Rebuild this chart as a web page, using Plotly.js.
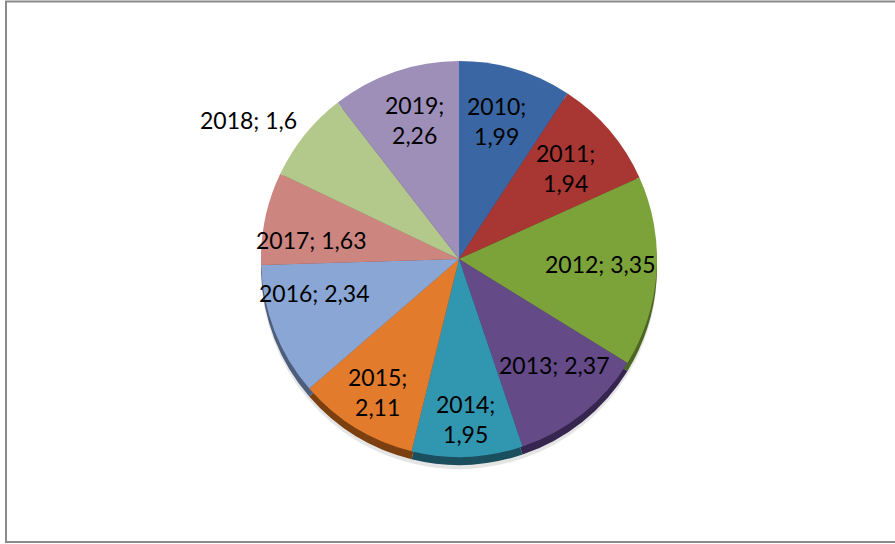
<!DOCTYPE html>
<html>
<head>
<meta charset="utf-8">
<script src="https://cdn.plot.ly/plotly-3.0.1.min.js"></script>
<style>
html,body{margin:0;padding:0;background:#fff;}
#chart{width:895px;height:544px;}
</style>
</head>
<body>
<div id="chart"></div>
<script>
// ---- data ----
const years = ['2010','2011','2012','2013','2014','2015','2016','2017','2018','2019'];
const values = [1.99, 1.94, 3.35, 2.37, 1.95, 2.11, 2.34, 1.63, 1.6, 2.26];

// ---- styles ----
const topColors = ['#3a67a3','#a83633','#7ca23a','#654a88','#3197b0','#e27c2c','#8aa6d4','#cd8580','#b2c98b','#9e8fb8'];
const edgeColors = ['#22406a','#6a1f1d','#4b6622','#36264f','#1b4f5e','#7c3f10','#4d5e7d','#7e4a46','#6b7c50','#5d5176'];
const twoLine = [true,true,false,false,true,true,false,false,false,true];
// label placement along each slice bisector (fraction of radius) + small pixel nudges
const labelRadius = [0.73,0.71,0.69,0.72,0.81,0.79,0.75,0.75,1.25,0.74];
const labelNudge = [[-4,0],[0,0],[5,-4],[7,-6],[0,0],[0,0],[-6,-20],[-2,12],[-18,16],[3,0]];

const labelText = years.map((y,i) => y + ';' + (twoLine[i] ? '<br>' : ' ') + String(values[i]).replace('.', ','));

const W = 895, H = 544;
const cx = 459, cy = 259, r = 198;
function dom(shift){
  const yc = H - (cy + shift);
  return { x:[cx/W - 0.3, cx/W + 0.3], y:[(yc - r)/H, (yc + r)/H] };
}

const common = {
  type:'pie', values: values, labels: years, sort:false, direction:'clockwise',
  rotation:0, showlegend:false, hoverinfo:'skip', textinfo:'none'
};

const shadow = Object.assign({}, common, {
  domain: dom(12),
  marker:{colors: years.map(()=> 'rgba(0,0,0,0.10)'), line:{width:0}}
});
const edge = Object.assign({}, common, {
  domain: dom(8),
  marker:{colors: edgeColors, line:{width:0}}
});
const main = Object.assign({}, common, {
  domain: dom(0),
  marker:{colors: topColors, line:{width:0}},
  hoverinfo:'label+value'
});

// labels positioned at the bisector of each slice, computed from the values
const total = values.reduce((a,b)=>a+b,0);
let cum = 0;
const annotations = values.map((v,i) => {
  const mid = (cum + v/2) / total * 2*Math.PI;
  cum += v;
  const k = labelRadius[i] * r;
  const px = cx + k*Math.sin(mid) + labelNudge[i][0];
  const py = cy - k*Math.cos(mid) + labelNudge[i][1];
  return {
    xref:'paper', yref:'paper', x: px/W, y: 1 - py/H,
    xanchor:'center', yanchor:'middle', showarrow:false,
    text: labelText[i], align:'center',
    font:{family:'Lato, "Open Sans", sans-serif', size:23, color:'#000'}
  };
});

const layout = {
  width: W, height: H,
  margin:{l:0,r:0,t:0,b:0},
  paper_bgcolor:'#fff', plot_bgcolor:'#fff',
  font:{family:'Lato, sans-serif'},
  annotations: annotations,
  shapes:[{
    type:'rect', xref:'paper', yref:'paper',
    x0: 6/W, x1: 1.02, y0: 2/H, y1: (H-1.5)/H,
    line:{color:'#8a8a8a', width:2}, fillcolor:'rgba(0,0,0,0)'
  }]
};

Plotly.newPlot('chart', [shadow, edge, main], layout, {displayModeBar:false, staticPlot:true});
</script>
</body>
</html>
